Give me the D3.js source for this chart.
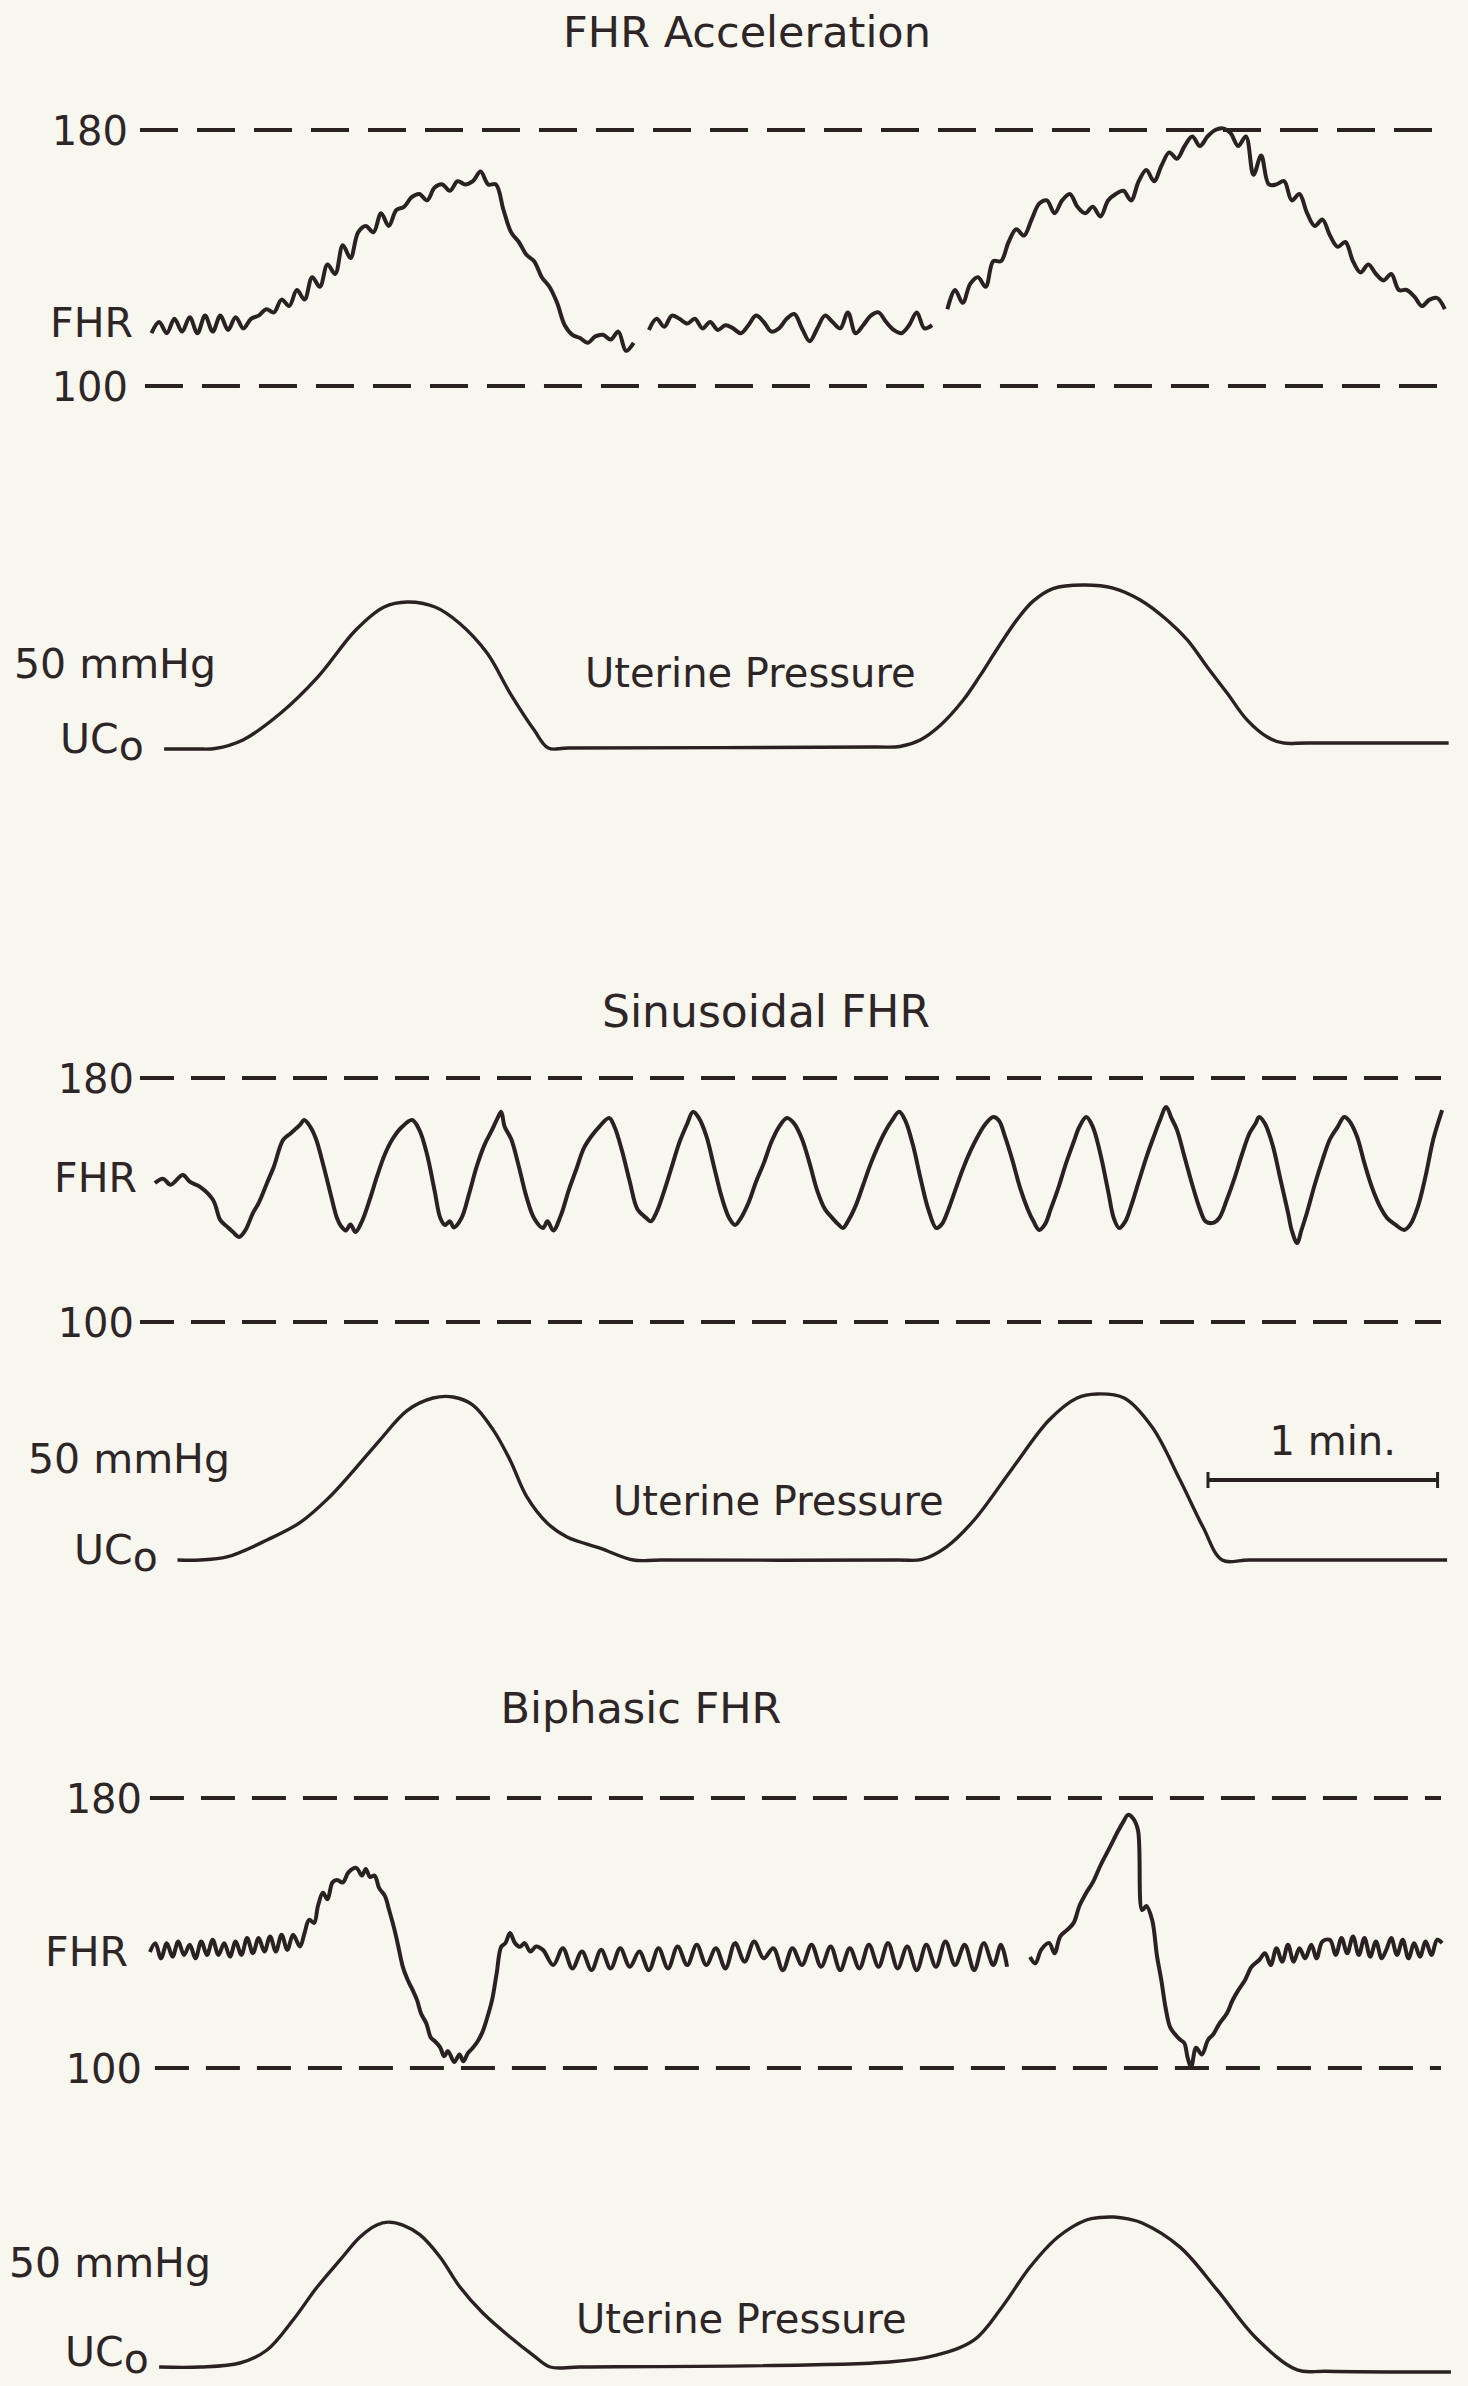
<!DOCTYPE html>
<html>
<head>
<meta charset="utf-8">
<script src="https://cdn.jsdelivr.net/npm/d3@7"></script>
<style>
  body { margin: 0; background: #f7f6ef; }
  svg { display: block; }
  text { font-family: "DejaVu Sans", sans-serif; fill: #2e2626; }
</style>
</head>
<body>
<script>
var width = 1468, height = 2386;
var ink = "#2a2222";

// FHR acceleration: one reading every 2 s from 3 s (null = pen lifted)
var accelStart = 3, accelStep = 2;
var accelBpm = [
  116.5, 120, 116.5, 121, 117, 121.5, 116.5, 122, 117, 122, 117.5, 121.5, 118,
  121, 122, 124, 123, 127, 125, 130, 127, 134, 131, 138, 135, 144, 140,
  148, 150, 148, 154, 150, 155, 156, 159, 160, 158, 162, 163, 161, 164,
  163, 164, 167, 163, 163, 155, 148, 145, 141, 139, 134, 131, 126, 119,
  116, 115, 113.5, 115.5, 116, 114.5, 117, 111, 113.5, null,
  117.5, 121, 118.5, 122, 121, 119.5, 121, 118, 120, 117.5, 119, 118,
  116.5, 119, 122, 120, 117, 118, 121, 122.5, 118, 114, 118, 122, 120,
  118, 123, 116.5, 119, 122, 123, 120, 117.5, 116.5, 119, 123, 118, 119, null,
  124, 130, 126, 132, 134, 131, 139, 139, 145, 149, 147, 152, 157, 158,
  154, 158, 160, 156, 154, 156, 153, 158, 160, 161, 158, 164, 167.5, 164,
  169, 173, 171, 175, 178, 175, 178, 180, 180.5, 179, 175, 178, 166, 172,
  163, 163, 164, 158, 160, 154, 150, 152, 147, 143.5, 145, 139, 135.5,
  138, 135, 133, 135, 130, 130, 128, 125, 127, 127.5, 124
];

// sinusoidal FHR: [seconds, bpm]
var sinusoidalFhr = [
  [3.9,145.6],[6,147],[8,145],[11.2,148.2],[13,146],[15.7,144.3],[19.1,140],[21,133.4],
  [23,131],[24.3,129.5],[25.9,127.9],[27.5,130],[29.5,135.7],[31,139],[33.2,145.6],[35,151],
  [37.4,159.7],[39.5,162],[41.8,164.6],[42.9,166.2],[44.5,164],[46,160],[48,151],[50,141],
  [51.5,134],[52.5,131.5],[53.8,130],[55,132],[56.3,129.5],[58,133],[60,140],[62,148],
  [64,155],[66,160],[68.5,164],[71.1,166.2],[73,163],[75,155],[77,143],[78.5,134],
  [79.7,131.8],[81,133],[82,131],[84,134],[86,142],[88,151],[90,158],[92,163],[93.5,167],
  [94.4,168.9],[95.3,164],[97,160],[99,151],[101,141],[103,134],[105.3,130.8],[106.5,133],
  [108,130],[110,135],[112,143],[114,150],[116,157],[118,161],[120,164],[122.6,166.9],
  [124,164],[126,156],[128,146],[130,137],[132.3,134.1],[133.5,133],[135,136],[137,143],
  [139,151],[141,159],[143,165],[144.5,168.9],[146,167],[148,161],[150,151],[152,141],
  [154,134],[155.5,131.8],[157,134],[159,139],[161,146],[163,152],[165,159],[167,164],
  [169.1,166.9],[171,165],[173,160],[175,152],[177,143],[179,137],[181,134],[182.5,132],
  [183.7,130.8],[185,133],[187,138],[189,145],[191,152],[193,158],[195,163],[196.5,166],
  [198.4,168.9],[200,166],[202,158],[204,147],[206,137],[208.1,130.8],[209.5,132],[211,136],
  [213,143],[215,150],[217,156],[219,161],[221,165],[223,167.2],[224.5,166],[226,161],
  [228,153],[230,144],[232,137],[233.5,133],[235,130.2],[236.5,132],[238,137],[240,144],
  [242,152],[244,159],[245.5,164],[247.3,167.2],[249,164],[251,155],[253,143],[254.5,134],
  [255.9,130.8],[257.5,133],[259,138],[261,146],[263,154],[265,161],[266.5,166],[268.2,170.5],
  [269.5,167],[271,163],[273,154],[275,145],[277,137],[278.5,133],[280.4,132.5],[282,134],
  [284,140],[286,147],[288,155],[290,162],[291.5,165],[292.5,167.2],[294,165],[296,158],
  [298,147],[300,136],[301,130],[302.4,125.9],[303.5,130],[305,136],[307,145],[309,153],
  [311,160],[313,164],[314.7,167.2],[316,166],[318,161],[320,152],[322,144],[324,138],
  [326,134],[328,132],[330.4,130.2],[332,132],[334,138],[336,148],[338,160],[340.3,169.5]
];

// biphasic FHR: [seconds, bpm] (null = pen lifted)
var biphasicFhr = [
  [2.6,134.4],[4,137],[5.5,132.5],[7,137],[8.5,133],[10,137.5],[11.5,133.5],[13,136.5],
  [14.5,132.5],[16,137.5],[17.5,133.5],[19,138],[20.5,133.5],[22,137],[23.5,133],[25,137.5],
  [26.5,133.5],[28,138.5],[29.5,134],[31,138.5],[32.5,134.5],[34,139],[35.5,134.5],[37,139.5],
  [38.5,135],[40,139.5],[41.8,136],[43,140],[44.2,143.9],[45.5,143],[46.5,148],[47.8,151.9],
  [49,150],[50.3,155],[51.5,155.7],[53,155],[54.5,158],[56.5,159.3],[58,157],[59,159],
  [60.1,156.6],[61.3,157],[62.5,153.3],[64,151],[65.1,146.8],[66.5,141],[67.5,136],[68.7,129.9],
  [70,126],[71.3,123],[72.4,120.1],[73.5,116],[74.8,113.3],[76,109],[77,108],[78.4,106.2],
  [79.5,103.5],[80.5,105],[82.1,101.8],[83.5,104],[84.5,102],[85.7,104.4],[87,106],[88.3,108],
  [89.4,110.4],[90.5,114],[92,120.1],[93.2,128],[94.4,135.9],[95.5,137],[96.7,140],[98,137],
  [99.3,135.9],[100.5,137],[102,134.5],[103.5,136],[105.3,135],[108,130.5],[110.5,135.5],[113,129.5],
  [115.5,134.5],[118,129],[120.5,135],[123,129.5],[125.5,135.5],[128,130],[130.5,134.5],[133,129],
  [135.5,135.5],[138,129.5],[140.5,136],[143,130.5],[145.5,136.5],[148,130.5],[150.5,135.5],[153,129.5],
  [155.5,137],[158,131.5],[160.5,137.5],[163,132.5],[165.5,135.5],[168,129],[170.5,135.5],[173,130.5],
  [175.5,136.5],[178,130],[180.5,136],[183,129],[185.5,135.5],[188,129.5],[190.5,136.5],[193,130],
  [195.5,137],[198,129.5],[200.5,136],[203,129],[205.5,136.5],[208,130],[210.5,137.5],[213,130.5],
  [215.5,136.5],[218,129],[220.5,137],[223,130.5],[225,136.5],[226.6,130],
  null,
  [232.6,132.9],[234,131],[235.5,135],[237.6,137],[239,134],[240.5,139],[242.3,140.9],[244,143],
  [245.5,148],[247.3,151.9],[249,155],[251,160],[253.5,165.5],[255.5,170],[257,173],[258.2,175],
  [259.5,174],[260.8,170.5],[261.9,146.8],[263,148],[264.5,143.9],[265.8,133],[266.9,126.1],[268,118],
  [269.2,112.1],[270.5,110],[271.7,108.5],[272.9,107.4],[273.8,103],[274.7,100.3],[276,106],[277.5,104],
  [279.1,108.3],[280.5,110],[282,113],[284.1,116.3],[285.5,120],[287,123],[288.8,126.1],[290.5,130],
  [292.5,132],[294,134],[295.5,130.5],[297,135.5],[298.5,131.5],[300,136.5],[301.5,131.5],[303,135.5],
  [304.5,132.5],[306.1,136.5],[307.5,132.5],[309,137.5],[311,137.9],[312.5,133.5],[314,138.5],[315.5,134],
  [317,139],[318.5,133.5],[320,138.5],[321.5,133],[323,137.5],[324.5,132.5],[325.7,135],[327,138.5],
  [328.5,133.5],[330,138],[331.5,132.5],[333,137],[334.5,133],[336,137.5],[337.5,133.5],[339,138],
  [340.3,137]
];

// uterine pressure traces: [seconds, mmHg]
var uterineAccel = [
  [6.3,0],[15,0],[19.6,0.3],[26.9,5.4],[36.8,21.4],[46.5,42.9],[56.4,70.8],[63.8,84.5],[69.8,87.5],
  [77.1,84.5],[83.4,75],[90.7,57.1],[96.7,33.3],[103,11.3],[106.7,0.6],[112,0.6],[192,1.2],[198.6,1.5],
  [203.9,5.4],[209.1,14],[215.1,29],[219.5,43.5],[224,59.5],[229.2,77],[233.4,88],[238.6,95.5],
  [246.5,97.6],[254.3,95.8],[261.4,88.7],[268.4,76.8],[273.7,64.9],[278.9,48.8],[284.1,33.3],
  [289.3,17.3],[294.6,7.1],[298.7,3.6],[305,3.6],[342,3.6]
];
var uterineSinus = [
  [9.8,0],[15.7,0],[22.7,1.5],[33.2,9.9],[41.8,18.5],[48.9,30],[55.7,44],[62.7,59.4],
  [69.8,74],[76.6,80.2],[81.8,80.7],[87,76.7],[92.3,64.4],[96.7,49.5],[101.1,31.2],[106.4,18.3],
  [111.6,11.4],[120.2,5.9],[128.9,0],[136,0],[198,0],[204.4,0.3],
  [210.7,6.4],[218,19.8],[227.7,44.6],[237.6,69.3],[244.9,80.2],[250.1,82.2],[257.2,80.2],
  [264.5,65.8],[271.8,39.6],[277.8,16.3],[282.8,0],[290,0],[341.6,0]
];
var uterineBiphasic = [
  [5,0],[15.7,0],[26.1,1.9],[33.2,8.1],[40,22.4],[46.3,38.1],[52.3,51],[57.5,61.9],[61.9,67.6],
  [64.8,69],[68.7,67.6],[73.2,62.9],[78.4,52.4],[83.6,38.1],[89.6,25.7],[96.7,14.3],[102.7,5.7],
  [107.2,0],[115,0],[195.8,2.4],[208.1,5.7],[218,12.9],[225.3,28.6],[232.6,47.6],[239.9,61.9],
  [247.3,70],[250.9,71.2],[254.6,71.4],[258.2,70.5],[261.9,68.6],[271.8,57.1],[281.5,36.7],
  [291.4,14.3],[302.4,-1.4],[310,-2],[342.6,-2.4]
];

var panelTitles = ["FHR Acceleration", "Sinusoidal FHR", "Biphasic FHR"];
var fhrTicks = [180, 100];
var fhrLabel = "FHR";
var pressureLabel = "50 mmHg";
var uterineLabel = "Uterine Pressure";
var scaleLabel = "1 min.";
var scaleBarSec = [279.1, 339.1];

// page layout of the three strips (pixels)
var layout = [
  { titleX: 747, titleY: 47, titleSize: 43, y180: 130, y100: 386, dashFrom: [0, 1.3], dash: "38 19",
    tickRight: 128, fhrY: 337, fhrRight: 133, ucBase: 749, uc50: 665,
    pressX: 14, pressY: 678, ucoX: 60, ucoY: 753, uterX: 585, uterY: 687 },
  { titleX: 766, titleY: 1027, titleSize: 44, y180: 1078, y100: 1322, dashFrom: [0, 0], dash: "34 17",
    tickRight: 134, fhrY: 1192, fhrRight: 137, ucBase: 1560, uc50: 1459,
    pressX: 28, pressY: 1473, ucoX: 74, ucoY: 1564, uterX: 613, uterY: 1515 },
  { titleX: 641, titleY: 1723, titleSize: 43, y180: 1798, y100: 2068, dashFrom: [2.6, 3.9], dash: "34 17",
    tickRight: 142, fhrY: 1966, fhrRight: 128, ucBase: 2367, uc50: 2262,
    pressX: 9, pressY: 2277, ucoX: 65, ucoY: 2366, uterX: 576, uterY: 2333 }
];

var svg = d3.select("body").append("svg")
  .attr("width", width)
  .attr("height", height);

svg.append("rect").attr("width", width).attr("height", height).attr("fill", "#f7f6ef");

var x = d3.scaleLinear().domain([0, 340]).range([140, 1441]);

var accelFhr = accelBpm.map(function (v, i) {
  return v == null ? null : [accelStart + i * accelStep, v];
});
var fhrSeries = [accelFhr, sinusoidalFhr, biphasicFhr];
var ucSeries = [uterineAccel, uterineSinus, uterineBiphasic];

layout.forEach(function (p, k) {
  var g = svg.append("g");
  var yF = d3.scaleLinear().domain([100, 180]).range([p.y100, p.y180]);
  var yU = d3.scaleLinear().domain([0, 50]).range([p.ucBase, p.uc50]);

  g.append("text")
    .attr("x", p.titleX).attr("y", p.titleY)
    .attr("text-anchor", "middle")
    .style("font-size", p.titleSize + "px")
    .text(panelTitles[k]);

  // 180 / 100 reference lines
  fhrTicks.forEach(function (t, j) {
    g.append("line")
      .attr("x1", x(p.dashFrom[j])).attr("x2", x(340))
      .attr("y1", yF(t)).attr("y2", yF(t))
      .attr("stroke", ink)
      .attr("stroke-width", 3.8)
      .attr("stroke-dasharray", p.dash);
    g.append("text")
      .attr("x", p.tickRight).attr("y", yF(t) + 15)
      .attr("text-anchor", "end")
      .style("font-size", "40px")
      .text(t);
  });

  g.append("text")
    .attr("x", p.fhrRight).attr("y", p.fhrY)
    .attr("text-anchor", "end")
    .style("font-size", "41px")
    .text(fhrLabel);

  var fhrLine = d3.line()
    .defined(function (d) { return d != null; })
    .x(function (d) { return x(d[0]); })
    .y(function (d) { return yF(d[1]); })
    .curve(d3.curveCatmullRom.alpha(0.5));

  g.append("path")
    .datum(fhrSeries[k])
    .attr("d", fhrLine)
    .attr("fill", "none")
    .attr("stroke", ink)
    .attr("stroke-width", 4)
    .attr("stroke-linejoin", "round");

  // uterine pressure
  g.append("text")
    .attr("x", p.pressX).attr("y", p.pressY)
    .style("font-size", "41px")
    .text(pressureLabel);

  var uco = g.append("text")
    .attr("x", p.ucoX).attr("y", p.ucoY)
    .style("font-size", "41px");
  uco.append("tspan").text("UC");
  uco.append("tspan").attr("dy", 7).text("o");

  g.append("text")
    .attr("x", p.uterX).attr("y", p.uterY)
    .style("font-size", "40px")
    .text(uterineLabel);

  var ucLine = d3.line()
    .x(function (d) { return x(d[0]); })
    .y(function (d) { return yU(d[1]); })
    .curve(d3.curveCatmullRom.alpha(0.5));

  g.append("path")
    .datum(ucSeries[k])
    .attr("d", ucLine)
    .attr("fill", "none")
    .attr("stroke", ink)
    .attr("stroke-width", 3.4);

  if (k == 1) {
    var barY = 1480;
    g.append("line")
      .attr("x1", x(scaleBarSec[0])).attr("x2", x(scaleBarSec[1]))
      .attr("y1", barY).attr("y2", barY)
      .attr("stroke", ink).attr("stroke-width", 3.8);
    scaleBarSec.forEach(function (s) {
      g.append("line")
        .attr("x1", x(s)).attr("x2", x(s))
        .attr("y1", barY - 8).attr("y2", barY + 8)
        .attr("stroke", ink).attr("stroke-width", 3);
    });
    g.append("text")
      .attr("x", x((scaleBarSec[0] + scaleBarSec[1]) / 2) + 10).attr("y", barY - 25)
      .attr("text-anchor", "middle")
      .style("font-size", "40px")
      .text(scaleLabel);
  }
});
</script>
</body>
</html>
